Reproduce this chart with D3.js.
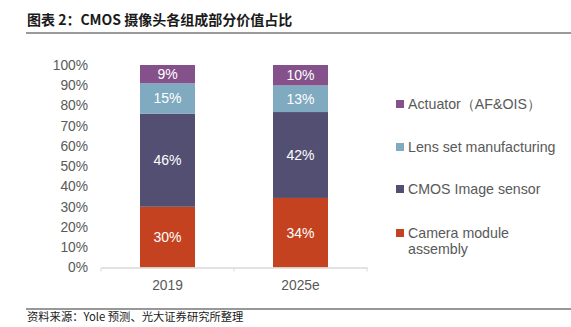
<!DOCTYPE html>
<html>
<head>
<meta charset="utf-8">
<script src="https://cdn.jsdelivr.net/npm/d3@7/dist/d3.min.js"></script>
<style>
  html, body { margin: 0; padding: 0; background: #fff; }
  svg { display: block; }
</style>
</head>
<body>
<svg id="chart" width="571" height="327"></svg>
<script>
// Share of CMOS camera module value by component (percent)
const years = ["2019", "2025e"];
const seriesNames = ["Camera module assembly", "CMOS Image sensor", "Lens set manufacturing", "Actuator\uFF08AF&OIS\uFF09"];
const cameraAssembly = [30, 34];
const cmosSensor = [46, 42];
const lensSet = [15, 13];
const actuator = [9, 10];
const yTicks = [0, 0.1, 0.2, 0.3, 0.4, 0.5, 0.6, 0.7, 0.8, 0.9, 1.0];

const colors = ["#c4421f", "#534f72", "#7faac0", "#84518a"];
const keys = ["assembly", "sensor", "lens", "actuator"];
const rows = years.map((y, i) => ({
  year: y,
  assembly: cameraAssembly[i],
  sensor: cmosSensor[i],
  lens: lensSet[i],
  actuator: actuator[i]
}));

const svg = d3.select("#chart");
const font = "'Liberation Sans', Arial, sans-serif";
const cjk = "'Noto Sans CJK SC', sans-serif";

// header
svg.append("text").attr("x", 27).attr("y", 25)
  .attr("font-family", cjk).attr("font-size", 14).attr("font-weight", 700)
  .attr("fill", "#1a1a1a").text("图表 2：CMOS 摄像头各组成部分价值占比");
svg.append("rect").attr("x", 26).attr("y", 32).attr("width", 545).attr("height", 2).attr("fill", "#9a9a9a");

// footer
svg.append("rect").attr("x", 26).attr("y", 308.5).attr("width", 545).attr("height", 1).attr("fill", "#333");
svg.append("text").attr("x", 27).attr("y", 321)
  .attr("font-family", cjk).attr("font-size", 11.3)
  .attr("fill", "#1a1a1a").text("资料来源：Yole 预测、光大证券研究所整理");

// scales
const x = d3.scaleBand().domain(years).range([101, 367]).paddingInner(0).paddingOuter(0);
const y = d3.scaleLinear().domain([0, 1]).range([267.5, 65]);
const barW = 55;

const stack = d3.stack().keys(keys).offset(d3.stackOffsetExpand);
const layers = stack(rows);

// y axis labels
const yAxis = svg.append("g").attr("transform", "translate(88,0)")
  .call(d3.axisLeft(y).tickValues(yTicks).tickFormat(d => Math.round(d * 100) + "%").tickSize(0).tickPadding(0));
yAxis.select(".domain").remove();
yAxis.selectAll("text").attr("font-family", font).attr("font-size", 13.8).attr("fill", "#595959");

// bars
const g = svg.append("g");
layers.forEach((layer, li) => {
  g.selectAll(null).data(layer).enter().append("rect")
    .attr("x", d => x(d.data.year) + x.bandwidth() / 2 - barW / 2)
    .attr("width", barW)
    .attr("y", d => y(d[1]))
    .attr("height", d => y(d[0]) - y(d[1]))
    .attr("fill", colors[li]);
  g.selectAll(null).data(layer).enter().append("text")
    .attr("x", d => x(d.data.year) + x.bandwidth() / 2)
    .attr("y", d => (y(d[0]) + y(d[1])) / 2)
    .attr("dy", "0.36em")
    .attr("text-anchor", "middle")
    .attr("font-family", font).attr("font-size", 14).attr("fill", "#fff")
    .text(d => d.data[keys[li]] + "%");
});

// x axis
const xAxis = svg.append("g").attr("transform", "translate(0,267.5)")
  .call(d3.axisBottom(x).tickSize(0).tickPadding(13));
xAxis.select(".domain").attr("stroke", "#d9d9d9").attr("stroke-width", 1.5);
xAxis.selectAll("text").attr("font-family", font).attr("font-size", 13.8).attr("fill", "#595959");
// boundary tick marks between categories
const bounds = [x.range()[0], ...years.map(d => x(d) + x.bandwidth())];
svg.append("g").selectAll("line").data(bounds).enter().append("line")
  .attr("x1", d => d).attr("x2", d => d)
  .attr("y1", 267.5).attr("y2", 271.5)
  .attr("stroke", "#d9d9d9").attr("stroke-width", 1);

// legend (top to bottom: reverse stacking order)
const legendItems = [
  { color: colors[3], lines: ["Actuator\uFF08AF&OIS\uFF09"], y: 104 },
  { color: colors[2], lines: ["Lens set manufacturing"], y: 147 },
  { color: colors[1], lines: ["CMOS Image sensor"], y: 189 },
  { color: colors[0], lines: ["Camera module", "assembly"], y: 233 }
];
const lg = svg.append("g");
legendItems.forEach(it => {
  lg.append("rect").attr("x", 396).attr("y", it.y - 4).attr("width", 8).attr("height", 8).attr("fill", it.color);
  const t = lg.append("text").attr("x", 408).attr("y", it.y)
    .attr("font-family", font).attr("font-size", 14.2).attr("fill", "#595959");
  it.lines.forEach((l, i) => {
    t.append("tspan").attr("x", 408).attr("dy", i === 0 ? "0.36em" : "1.15em").text(l);
  });
});
</script>
</body>
</html>
